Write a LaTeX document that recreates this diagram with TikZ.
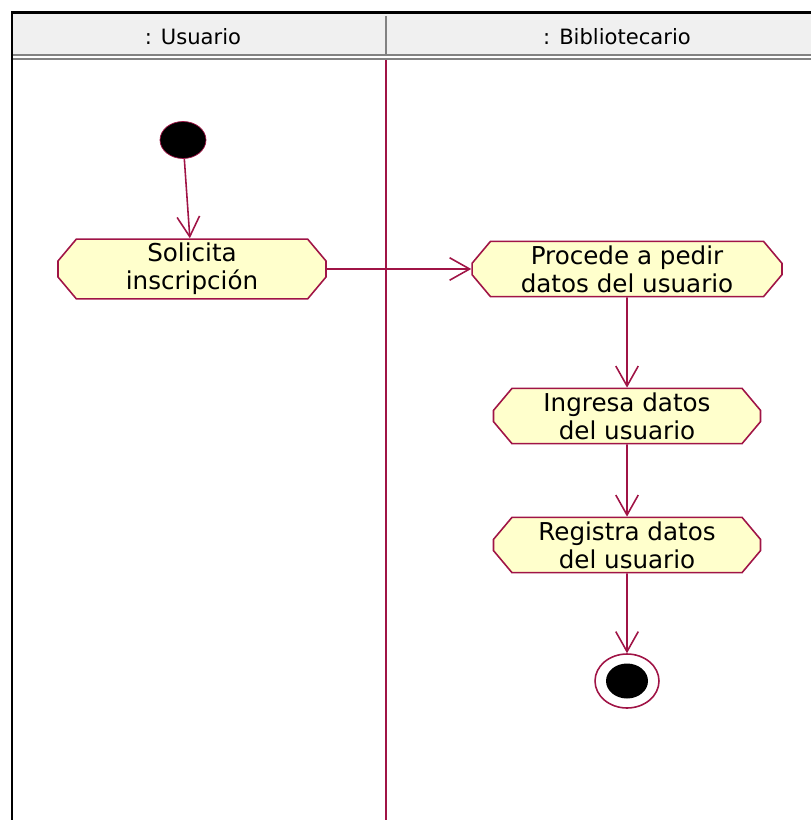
\documentclass[tikz,border=0pt]{standalone}
\usepackage{fontspec}
\setmainfont{DejaVu Sans}
\usetikzlibrary{shapes.misc,shapes.geometric,arrows.meta}
\definecolor{umlred}{RGB}{160,20,70}
\definecolor{umlfill}{RGB}{255,255,204}
\definecolor{headgray}{RGB}{240,240,240}
\definecolor{rulegray}{RGB}{130,130,130}

\begin{document}
\begin{tikzpicture}
[x=0.02cm,y=-0.02cm,
act/.style={chamfered rectangle,chamfered rectangle angle=40,chamfered rectangle xsep=0.2cm,chamfered rectangle ysep=0.2cm,minimum width=5.34cm,minimum height=0.5cm,inner xsep=0pt,inner ysep=-0.12cm,align=center,draw=umlred,fill=umlfill,line width=0.9pt,font=\fontsize{14}{16}\selectfont},
flow/.style={-{Straight Barb[length=0.4cm,width=0.45cm]},draw=umlred,line width=0.9pt},
lane/.style={font=\fontsize{12}{14}\selectfont},
]
\useasboundingbox (0,0) rectangle (811,820);

% header and frame
\fill[headgray] (12,14) rectangle (811,54);
\draw[rulegray,line width=1pt] (12,55) -- (811,55);
\draw[rulegray,line width=1pt] (12,59) -- (811,59);
\draw[rulegray,line width=1.2pt] (386,16) -- (386,55);
\draw[black,line width=1.7pt] (12,820) -- (12,12.5) -- (811,12.5);
\node[lane] (usuario) at (193,37) {: Usuario};
\node[lane] (biblio) at (617,37) {: Bibliotecario};
\draw[umlred,line width=1pt] (386,60) -- (386,820);

\node [ellipse,fill=black,draw=umlred,minimum width=0.92cm,minimum height=0.74cm,inner sep=0pt] (start) at (183,140){};
\node [act,minimum width=5.36cm] (sol) at (192,269){Solicita \\ inscripción};
\node [act,minimum width=6.2cm] (ped) at (627,269){Procede a pedir \\ datos del usuario};
\node [act] (ing) at (627,416){Ingresa datos \\ del usuario};
\node [act] (reg) at (627,545){Registra datos \\ del usuario};
\node [ellipse,draw=umlred,line width=0.9pt,minimum width=1.28cm,minimum height=1.08cm,inner sep=0pt] (fin) at (627,681){};
\node [ellipse,fill=black,minimum width=0.84cm,minimum height=0.7cm,inner sep=0pt] (finin) at (fin.center){};

\draw[flow] (start) -- (sol);
\draw[flow] (sol) -- (ped);
\draw[flow] (ped) -- (ing);
\draw[flow] (ing) -- (reg);
\draw[flow] (reg) -- (fin);
\end{tikzpicture}
\end{document}
